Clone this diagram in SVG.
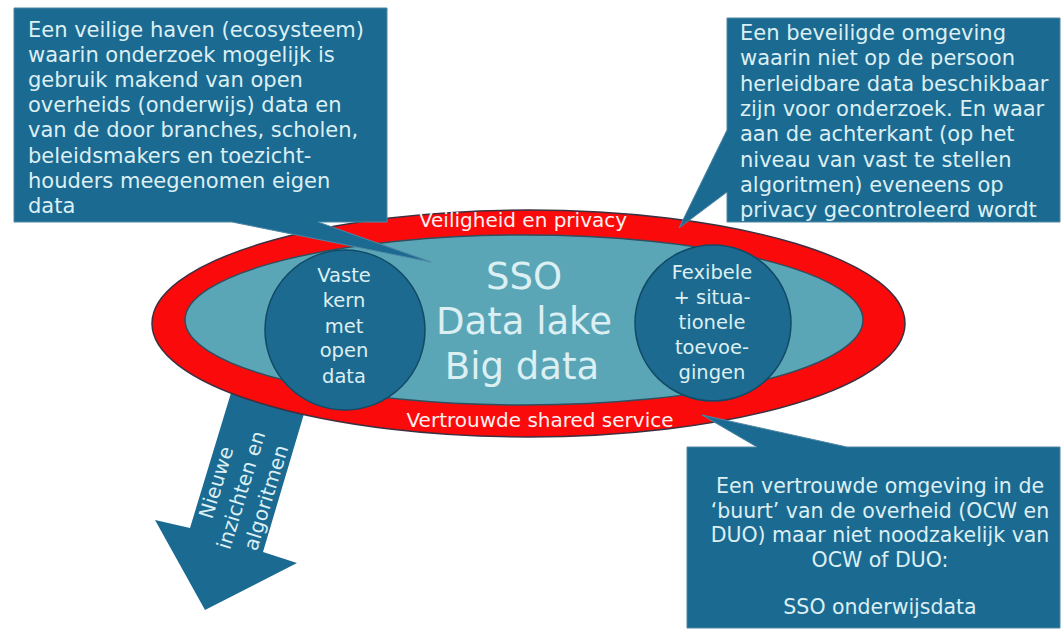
<svg xmlns="http://www.w3.org/2000/svg" width="1062" height="630" viewBox="0 0 1062 630">
<style>
.box{fill:#1B6A92;stroke:#4f86a3;stroke-width:1}
.t{font-family:"DejaVu Sans",Verdana,sans-serif;fill:#DCEFF3}
.bt{font-size:21px}
.ct{font-size:19.5px;text-anchor:middle}
.rt{font-family:"DejaVu Sans",Verdana,sans-serif;fill:#FFF0F0;font-size:20px;text-anchor:middle}
.circ{fill:#1C6A90;stroke:#114a66;stroke-width:1.5}
</style>
<rect width="1062" height="630" fill="#ffffff"/>
<g id="connectors">
  <g id="arrow-out">
    <path d="M241,360 L314,380 L263,552 L297,563 L205,610 L155,520 L190,528 Z" fill="#1B6A92"/>
    <g class="t" font-size="20" text-anchor="middle" transform="translate(241,490) rotate(-73)">
      <text x="0" y="-19">Nieuwe</text>
      <text x="0" y="7">inzichten en</text>
      <text x="0" y="33">algoritmen</text>
    </g>
  </g>
</g>
<g id="ring">
  <ellipse cx="528.5" cy="323.5" rx="376.5" ry="113.5" fill="#FA0A0A" stroke="#3d3040" stroke-width="1.5"/>
  <ellipse cx="524" cy="320" rx="339" ry="85" fill="#5AA6B6" stroke="#2f4f5f" stroke-width="1.5"/>
  <text class="rt" x="523" y="227">Veiligheid en privacy</text>
  <text class="rt" x="540" y="427" font-size="20.5">Vertrouwde shared service</text>
</g>
<g id="center">
  <g class="t" font-size="37" text-anchor="middle">
    <text x="524" y="289">SSO</text>
    <text x="524" y="334">Data lake</text>
    <text x="522" y="379">Big data</text>
  </g>
</g>
<g id="left-circle">
  <circle class="circ" cx="345" cy="330" r="80"/>
  <g class="t ct">
    <text x="344" y="282">Vaste</text>
    <text x="344" y="307">kern</text>
    <text x="344" y="333">met</text>
    <text x="344" y="357">open</text>
    <text x="344" y="383">data</text>
  </g>
</g>
<g id="right-circle">
  <circle class="circ" cx="713" cy="323" r="78"/>
  <g class="t ct" font-size="20.5">
    <text x="712" y="279">Fexibele</text>
    <text x="712" y="304">+ situa-</text>
    <text x="712" y="329">tionele</text>
    <text x="712" y="354">toevoe-</text>
    <text x="712" y="379">gingen</text>
  </g>
</g>
<g id="callout-top-left">
  <path class="box" d="M14,8 H387 V222 H318 L431,262 L232,222 H14 Z"/>
  <g class="t bt">
    <text x="28" y="36.5">Een veilige haven (ecosysteem)</text>
    <text x="28" y="61.7">waarin onderzoek mogelijk is</text>
    <text x="28" y="86.9">gebruik makend van open</text>
    <text x="28" y="112.1">overheids (onderwijs) data en</text>
    <text x="28" y="137.3">van de door branches, scholen,</text>
    <text x="28" y="162.5">beleidsmakers en toezicht-</text>
    <text x="28" y="187.7">houders meegenomen eigen</text>
    <text x="28" y="212.9">data</text>
  </g>
</g>
<g id="callout-top-right">
  <path class="box" d="M727,18 H1060 V222 H727 V192 L679,228 L727,130 Z"/>
  <g class="t bt">
    <text x="740" y="40">Een beveiligde omgeving</text>
    <text x="740" y="65.3">waarin niet op de persoon</text>
    <text x="740" y="90.6">herleidbare data beschikbaar</text>
    <text x="740" y="115.9">zijn voor onderzoek. En waar</text>
    <text x="740" y="141.2">aan de achterkant (op het</text>
    <text x="740" y="166.5">niveau van vast te stellen</text>
    <text x="740" y="191.8">algoritmen) eveneens op</text>
    <text x="740" y="217">privacy gecontroleerd wordt</text>
  </g>
</g>
<g id="callout-bottom-right">
  <path class="box" d="M687,447 H757 L702,415 L847,447 H1060 V628 H687 Z"/>
  <g class="t" font-size="20.5" text-anchor="middle">
    <text x="880" y="493">Een vertrouwde omgeving in de</text>
    <text x="880" y="517.5">‘buurt’ van de overheid (OCW en</text>
    <text x="880" y="542">DUO) maar niet noodzakelijk van</text>
    <text x="880" y="566.5">OCW of DUO:</text>
    <text x="880" y="614">SSO onderwijsdata</text>
  </g>
</g>
</svg>
